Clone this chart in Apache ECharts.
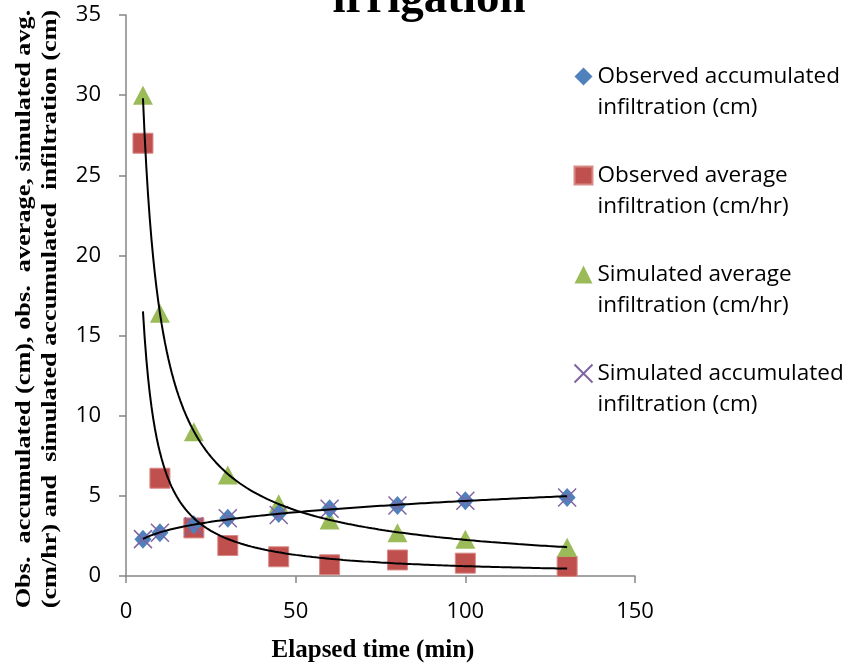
<!DOCTYPE html>
<html>
<head>
<meta charset="utf-8">
<script src="https://cdn.jsdelivr.net/npm/echarts@6/dist/echarts.min.js"></script>
<style>
  html, body { margin: 0; padding: 0; background: #ffffff; }
  #chart { width: 853px; height: 668px; }
</style>
</head>
<body>
<div id="chart"></div>
<script>
// Elapsed time of each reading (min)
const elapsedMin = [5, 10, 20, 30, 45, 60, 80, 100, 130];
// Observed accumulated infiltration (cm)
const obsAccum = [2.3, 2.7, 3.2, 3.6, 3.9, 4.2, 4.4, 4.7, 4.9];
// Observed average infiltration rate (cm/hr)
const obsAvg = [27, 6.1, 3.0, 1.9, 1.2, 0.7, 1.0, 0.8, 0.6];
// Simulated average infiltration rate (cm/hr)
const simAvg = [30, 16.4, 9.0, 6.3, 4.5, 3.5, 2.7, 2.3, 1.8];
// Simulated accumulated infiltration (cm)
const simAccum = [2.3, 2.7, 3.1, 3.6, 3.8, 4.2, 4.4, 4.7, 4.9];

const seriesNames = [
  'Observed accumulated\ninfiltration (cm)',
  'Observed average\ninfiltration (cm/hr)',
  'Simulated average\ninfiltration (cm/hr)',
  'Simulated accumulated\ninfiltration (cm)'
];

const yTitle = 'Obs.  accumulated (cm), obs.  average, simulated avg.\n(cm/hr) and  simulated accumulated  infiltration (cm)';
const xTitle = 'Elapsed time (min)';
const chartTitle = 'irrigation';

// Least-squares power trend y = a * x^b (log-log regression)
function powerFit(xs, ys) {
  const lx = xs.map(Math.log), ly = ys.map(Math.log);
  const n = xs.length;
  const mx = lx.reduce((s, v) => s + v, 0) / n;
  const my = ly.reduce((s, v) => s + v, 0) / n;
  let sxy = 0, sxx = 0;
  for (let i = 0; i < n; i++) {
    sxy += (lx[i] - mx) * (ly[i] - my);
    sxx += (lx[i] - mx) * (lx[i] - mx);
  }
  const b = sxy / sxx;
  const a = Math.exp(my - b * mx);
  return { a, b };
}

function trendPoints(xs, ys) {
  const { a, b } = powerFit(xs, ys);
  const pts = [];
  const x0 = xs[0], x1 = xs[xs.length - 1];
  for (let x = x0; x <= x1 + 1e-9; x += 0.5) pts.push([x, a * Math.pow(x, b)]);
  return pts;
}

const pair = (ys) => elapsedMin.map((x, i) => [x, ys[i]]);

const serif = '"Liberation Serif", "Times New Roman", serif';
const sans = '"Open Sans", "Noto Sans", sans-serif';

function trendSeries(name, xs, ys) {
  return {
    name, type: 'line', data: trendPoints(xs, ys),
    showSymbol: false, silent: true, z: 5,
    lineStyle: { color: '#000000', width: 2 }
  };
}

const chart = echarts.init(document.getElementById('chart'), null, { renderer: 'canvas' });

chart.setOption({
  animation: false,
  backgroundColor: '#ffffff',
  graphic: [
    {
      type: 'text', x: 429, y: 0,
      style: {
        text: chartTitle, fill: '#000000',
        font: 'bold 47px ' + serif,
        align: 'center', verticalAlign: 'middle'
      }
    },
    {
      // vertical axis title, two lines, stretched along its reading direction
      type: 'text', x: 38, y: 309, rotation: Math.PI / 2, scaleX: 1.25, scaleY: 1,
      style: {
        text: yTitle, fill: '#000000',
        font: 'bold 21px ' + serif, lineHeight: 26,
        align: 'center', verticalAlign: 'middle'
      }
    }
  ],
  grid: { left: 126, right: 218, top: 15, bottom: 91 },
  legend: {
    data: seriesNames,
    orient: 'vertical', left: 572, top: 30, padding: 0,
    itemWidth: 18, itemHeight: 18, itemGap: 6,
    selectedMode: false,
    // a leading blank line keeps each marker level with the first text line
    formatter: (name) => '\u200b\n' + name,
    textStyle: {
      fontFamily: sans, fontSize: 22.5, color: '#000000', lineHeight: 31
    }
  },
  xAxis: {
    type: 'value', min: 0, max: 150, interval: 50,
    name: xTitle, nameLocation: 'middle', nameGap: 62,
    nameTextStyle: {
      fontFamily: serif, fontWeight: 'bold', fontSize: 25, color: '#000000',
      padding: [0, 15, 0, 0]
    },
    axisLine: { show: true, lineStyle: { color: '#868686', width: 1.5 } },
    axisTick: { show: true, length: 7, lineStyle: { color: '#868686', width: 1.5 } },
    axisLabel: { fontFamily: sans, fontSize: 22, color: '#000000', margin: 25 },
    splitLine: { show: false }
  },
  yAxis: {
    type: 'value', min: 0, max: 35, interval: 5,
    axisLine: { show: true, lineStyle: { color: '#868686', width: 1.5 } },
    axisTick: { show: true, length: 7, lineStyle: { color: '#868686', width: 1.5 } },
    axisLabel: { fontFamily: sans, fontSize: 22, color: '#000000', margin: 25 },
    splitLine: { show: false }
  },
  series: [
    {
      name: seriesNames[0], type: 'scatter', data: pair(obsAccum), z: 3,
      symbol: 'diamond', symbolSize: [17, 19],
      itemStyle: { color: '#4F81BD', opacity: 1 }
    },
    {
      name: seriesNames[1], type: 'scatter', data: pair(obsAvg), z: 2,
      symbol: 'rect', symbolSize: [20, 20],
      itemStyle: { color: '#C0504D', borderColor: '#D88A88', borderWidth: 1, opacity: 1 }
    },
    {
      name: seriesNames[2], type: 'scatter', data: pair(simAvg), z: 2,
      symbol: 'triangle', symbolSize: [20, 19],
      itemStyle: { color: '#9BBB59', opacity: 1 }
    },
    {
      name: seriesNames[3], type: 'scatter', data: pair(simAccum), z: 4,
      symbol: 'path://M0,0L10,10M10,0L0,10', symbolSize: [18, 18],
      itemStyle: { color: 'none', borderColor: '#8064A2', borderWidth: 1.5, opacity: 1 }
    },
    trendSeries('Power trend, observed average', elapsedMin, obsAvg),
    trendSeries('Power trend, simulated average', elapsedMin, simAvg),
    trendSeries('Power trend, observed accumulated', elapsedMin, obsAccum)
  ]
});
</script>
</body>
</html>
